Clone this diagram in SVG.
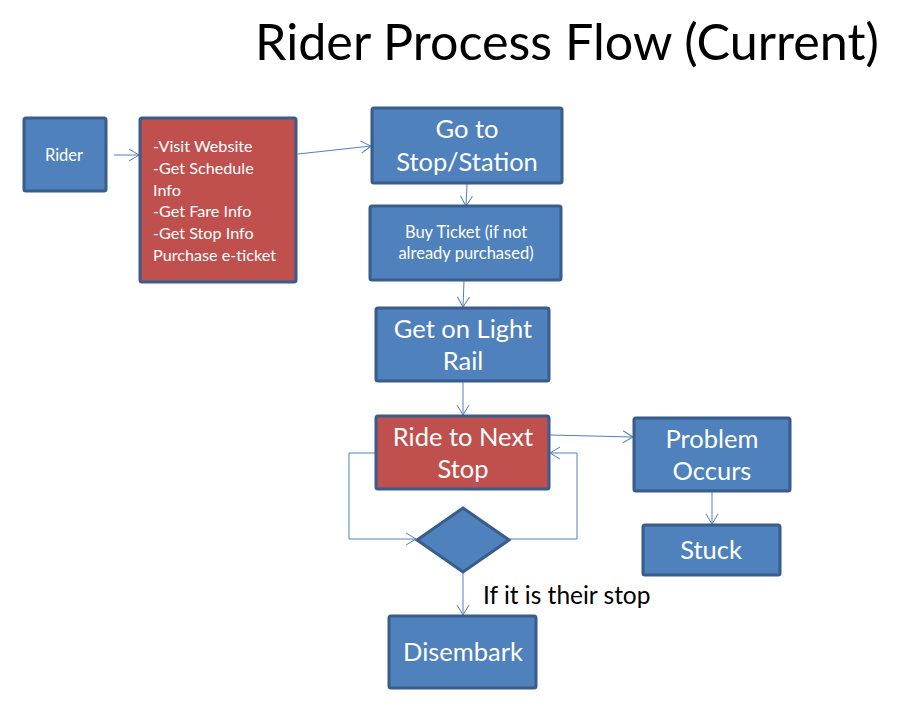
<svg xmlns="http://www.w3.org/2000/svg" width="900" height="725" viewBox="0 0 900 725">
<defs>
<marker id="arr" markerUnits="userSpaceOnUse" markerWidth="12" markerHeight="14" refX="10" refY="6" orient="auto" overflow="visible">
<path d="M0,0 L10,6 L0,12" fill="none" stroke="#4F81BD" stroke-width="1"/>
</marker>
</defs>
<style>
.blue{fill:#4F81BD;stroke:#385D8A;stroke-width:3}
.red{fill:#C0504D;stroke:#385D8A;stroke-width:3}
.t{font-family:Lato,"Open Sans","Liberation Sans",sans-serif;fill:#FFFFFF}
.c{text-anchor:middle}
.big{font-size:25.5px}
.sm{font-size:16.5px}
.con{fill:none;stroke:#4F81BD;stroke-width:1;marker-end:url(#arr)}
</style>
<rect width="900" height="725" fill="#FFFFFF"/>
<text x="255" y="60" font-family="Lato,'Open Sans','Liberation Sans',sans-serif" font-size="50" fill="#000000" textLength="624" lengthAdjust="spacingAndGlyphs">Rider Process Flow (Current)</text>

<g id="connectors">
<line class="con" x1="114" y1="155" x2="139" y2="155"/>
<line class="con" x1="298" y1="154" x2="371" y2="146"/>
<line class="con" x1="467" y1="184" x2="466" y2="206"/>
<line class="con" x1="464" y1="281" x2="463" y2="307"/>
<line class="con" x1="463" y1="382" x2="463" y2="415"/>
<line class="con" x1="550" y1="435" x2="633" y2="437"/>
<line class="con" x1="712" y1="492" x2="712" y2="524"/>
<polyline class="con" points="376,453 349,453 349,539 416,539"/>
<polyline class="con" points="509,539 577,539 577,453 550,453"/>
<line class="con" x1="463" y1="573" x2="463" y2="615"/>
</g>

<g id="rider">
<rect class="blue" x="24" y="118" width="82" height="73" rx="2"/>
<text class="t c" x="64" y="161" font-size="16.5">Rider</text>
</g>

<g id="web">
<rect class="red" x="140" y="118" width="156" height="164" rx="2"/>
<text class="t" font-size="16.2">
<tspan x="153" y="152">-Visit Website</tspan>
<tspan x="153" y="174">-Get Schedule</tspan>
<tspan x="153" y="196">Info</tspan>
<tspan x="153" y="217">-Get Fare Info</tspan>
<tspan x="153" y="239">-Get Stop Info</tspan>
<tspan x="153" y="261">Purchase e-ticket</tspan>
</text>
</g>

<g id="goto">
<rect class="blue" x="372" y="108" width="190" height="75" rx="2"/>
<text class="t c big" x="467" y="138">Go to</text>
<text class="t c big" x="467" y="171">Stop/Station</text>
</g>

<g id="buy">
<rect class="blue" x="370" y="206" width="191" height="74" rx="2"/>
<text class="t c sm" x="466" y="238">Buy Ticket (if not</text>
<text class="t c sm" x="466" y="259">already purchased)</text>
</g>

<g id="geton">
<rect class="blue" x="376" y="308" width="173" height="73" rx="2"/>
<text class="t c big" x="463" y="338">Get on Light</text>
<text class="t c big" x="463" y="370">Rail</text>
</g>

<g id="ride">
<rect class="red" x="376" y="416" width="173" height="73" rx="2"/>
<text class="t c big" x="463" y="446">Ride to Next</text>
<text class="t c big" x="463" y="478">Stop</text>
</g>

<g id="decision">
<polygon class="blue" points="463,508 509,540 463,572 417,540"/>
</g>

<g id="problem">
<rect class="blue" x="634" y="418" width="156" height="73" rx="2"/>
<text class="t c big" x="712" y="448">Problem</text>
<text class="t c big" x="712" y="480">Occurs</text>
</g>

<g id="stuck">
<rect class="blue" x="643" y="525" width="137" height="50" rx="2"/>
<text class="t c big" x="711" y="559">Stuck</text>
</g>

<g id="disembark">
<rect class="blue" x="389" y="616" width="147" height="72" rx="2"/>
<text class="t c big" x="463" y="661">Disembark</text>
</g>

<text x="483" y="604" font-family="Lato,'Open Sans','Liberation Sans',sans-serif" font-size="24.5" fill="#000000">If it is their stop</text>
</svg>
